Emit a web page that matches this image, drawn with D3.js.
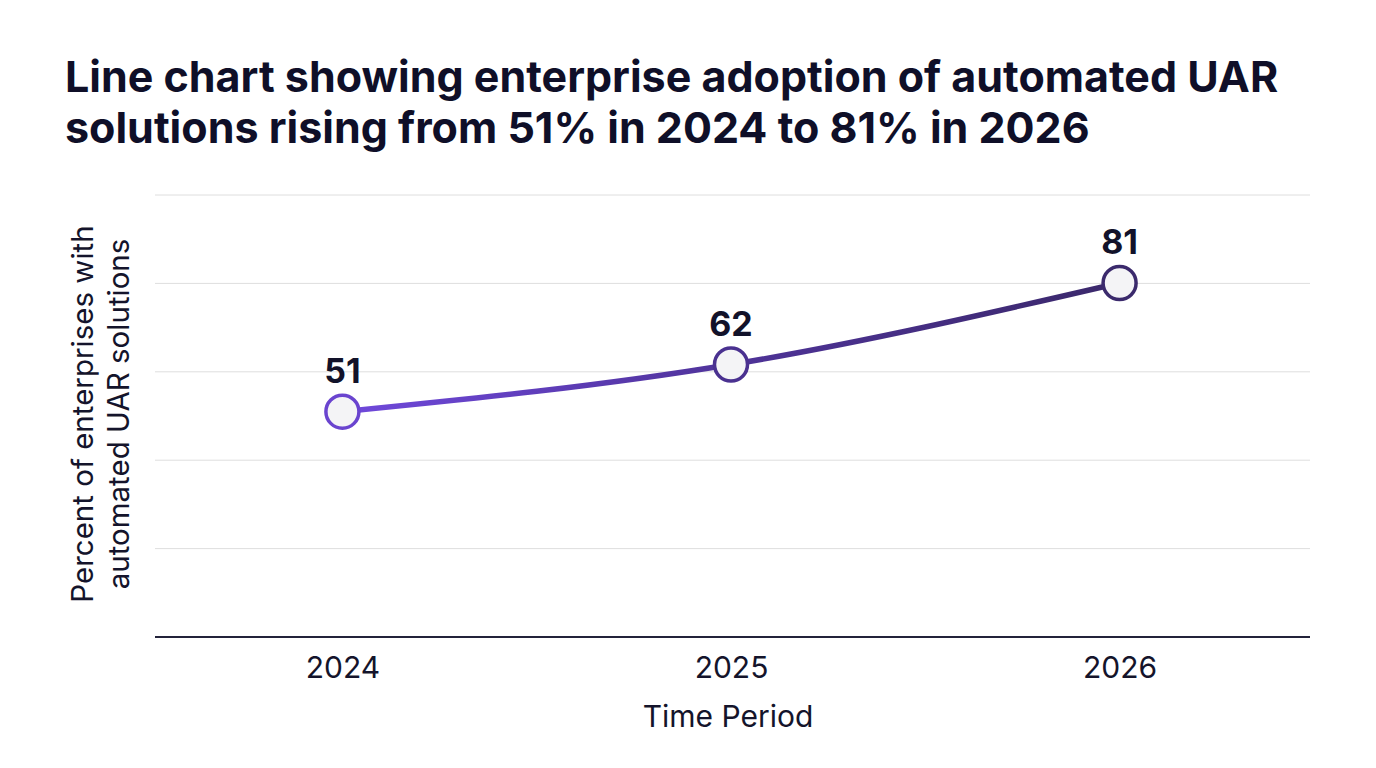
<!DOCTYPE html>
<html>
<head>
<meta charset="utf-8">
<script src="https://cdn.jsdelivr.net/npm/d3@7"></script>
<style>
  body { margin: 0; background: #fff; }
  svg { display: block; font-family: Inter, "Noto Sans", sans-serif; }
</style>
</head>
<body>
<svg id="drawing_region"></svg>
<script>
const years = ["2024", "2025", "2026"];
const adoption = [51, 62, 81];
const titleLines = [
    "Line chart showing enterprise adoption of automated UAR",
    "solutions rising from 51% in 2024 to 81% in 2026"
];
const yLabelLines = ["Percent of enterprises with", "automated UAR solutions"];

const data = years.map((y, i) => ({ year: y, value: adoption[i] }));

const config = {
    width: 1376,
    height: 768,
    margin: { top: 195, right: 66, bottom: 131, left: 155 }
};

const svg = d3.select('#drawing_region')
    .attr('width', config.width)
    .attr('height', config.height);

const inner_width = config.width - config.margin.left - config.margin.right;
const inner_height = config.height - config.margin.top - config.margin.bottom;

const chart = svg.append('g')
    .attr('transform', `translate(${config.margin.left}, ${config.margin.top})`);

const xscale = d3.scalePoint()
    .domain(years)
    .range([-3, inner_width])
    .padding(0.49);

const yscale = d3.scaleLinear()
    .domain([-1.5, 101.5])
    .range([inner_height, 0]);

// gridlines: five even divisions of the plot area
const grid = d3.range(1, 6).map(i => i * inner_height / 5);
chart.selectAll('.grid')
    .data(grid)
    .enter()
    .append('line')
    .attr('x1', 0)
    .attr('x2', inner_width)
    .attr('y1', d => inner_height - d)
    .attr('y2', d => inner_height - d)
    .attr('stroke', '#dedede')
    .attr('stroke-width', 1);

// x axis
const xaxis = d3.axisBottom(xscale).tickSize(0).tickPadding(20);
const xaxis_group = chart.append('g')
    .attr('transform', `translate(0, ${inner_height})`)
    .call(xaxis);
xaxis_group.select('.domain')
    .attr('d', `M0,0H${inner_width}`)
    .attr('stroke', '#23233a')
    .attr('stroke-width', 2);
xaxis_group.selectAll('text')
    .attr('font-family', 'Inter, sans-serif')
    .attr('font-size', 30)
    .attr('fill', '#14142b');

// gradient along the line
const defs = svg.append('defs');
const grad = defs.append('linearGradient')
    .attr('id', 'lineGrad')
    .attr('gradientUnits', 'userSpaceOnUse')
    .attr('x1', xscale(years[0])).attr('y1', 0)
    .attr('x2', xscale(years[years.length - 1])).attr('y2', 0);
grad.append('stop').attr('offset', '0%').attr('stop-color', '#7049dc');
grad.append('stop').attr('offset', '50%').attr('stop-color', '#4f3399');
grad.append('stop').attr('offset', '100%').attr('stop-color', '#3a286a');

const line = d3.line()
    .x(d => xscale(d.year))
    .y(d => yscale(d.value))
    .curve(d3.curveMonotoneX);

chart.append('path')
    .datum(data)
    .attr('d', line)
    .attr('fill', 'none')
    .attr('stroke', 'url(#lineGrad)')
    .attr('stroke-width', 5.5)
    .attr('stroke-linecap', 'round');

const strokeColor = d3.scaleLinear()
    .domain([0, years.length - 1])
    .range(['#6a44cf', '#3b2a6c']);

chart.selectAll('circle')
    .data(data)
    .enter()
    .append('circle')
    .attr('cx', d => xscale(d.year))
    .attr('cy', d => yscale(d.value))
    .attr('r', 16.5)
    .attr('fill', '#f4f4f6')
    .attr('stroke', (d, i) => i === 1 ? '#4a3190' : strokeColor(i))
    .attr('stroke-width', 3.5);

chart.selectAll('.val')
    .data(data)
    .enter()
    .append('text')
    .attr('x', d => xscale(d.year))
    .attr('y', d => yscale(d.value) - 29)
    .attr('text-anchor', 'middle')
    .attr('font-size', 34)
    .attr('font-weight', 700)
    .attr('fill', '#12122a')
    .text(d => d.value);

// title
svg.append('text')
    .attr('x', 65)
    .attr('y', 92)
    .attr('font-size', 43)
    .attr('font-weight', 700)
    .attr('fill', '#0f0f28')
    .selectAll('tspan')
    .data(titleLines)
    .enter()
    .append('tspan')
    .attr('x', 65)
    .attr('dy', (d, i) => i === 0 ? 0 : 51)
    .text(d => d);

// axis titles
svg.append('text')
    .attr('x', 728)
    .attr('y', 727)
    .attr('text-anchor', 'middle')
    .attr('font-size', 30)
    .attr('fill', '#14142b')
    .text('Time Period');

svg.append('text')
    .attr('transform', 'translate(93, 414) rotate(-90)')
    .attr('text-anchor', 'middle')
    .attr('font-size', 29.5)
    .attr('fill', '#14142b')
    .selectAll('tspan')
    .data(yLabelLines)
    .enter()
    .append('tspan')
    .attr('x', 0)
    .attr('dy', (d, i) => i === 0 ? 0 : 36)
    .text(d => d);
</script>
</body>
</html>
